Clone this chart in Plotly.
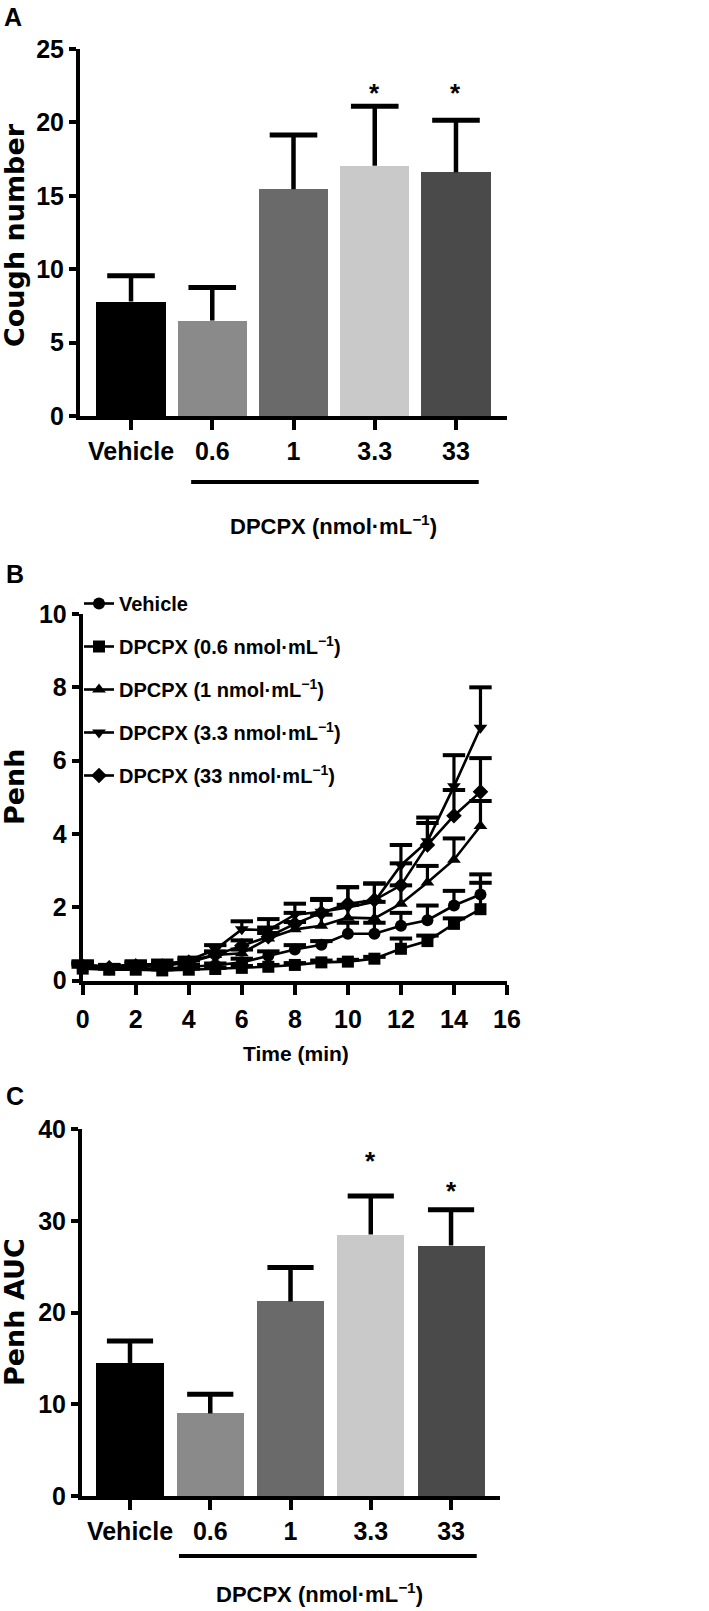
import plotly.graph_objects as go

W, H = 709, 1611

# ---------------- data ----------------
categories = ["Vehicle", "0.6", "1", "3.3", "33"]
bar_colors = ["#000000", "#8a8a8a", "#6a6a6a", "#c9c9c9", "#4a4a4a"]

cough_mean = [7.8, 6.5, 15.45, 17.05, 16.6]
cough_sem = [1.75, 2.25, 3.7, 4.05, 3.55]
cough_star = [None, None, None, 22.0, 22.0]

auc_mean = [14.5, 9.0, 21.2, 28.5, 27.3]
auc_sem = [2.4, 2.1, 3.7, 4.2, 3.9]
auc_star = [None, None, None, 36.5, 33.2]

time_min = list(range(16))
penh_vehicle = [0.35, 0.33, 0.35, 0.32, 0.38, 0.42, 0.5, 0.68, 0.85, 0.98, 1.28, 1.28, 1.5, 1.65, 2.05, 2.35]
penh_vehicle_sem = [0.1, 0.05, 0.05, 0.05, 0.05, 0.05, 0.1, 0.12, 0.12, 0.1, 0.3, 0.3, 0.35, 0.4, 0.4, 0.55]
penh_06 = [0.33, 0.3, 0.3, 0.28, 0.3, 0.32, 0.35, 0.38, 0.43, 0.5, 0.52, 0.6, 0.87, 1.08, 1.55, 1.95]
penh_06_sem = [0.05, 0.03, 0.03, 0.03, 0.03, 0.03, 0.05, 0.05, 0.05, 0.05, 0.05, 0.05, 0.28, 0.15, 0.15, 0.72]
penh_1 = [0.45, 0.38, 0.45, 0.42, 0.55, 0.7, 0.75, 1.15, 1.4, 1.5, 1.72, 1.7, 2.1, 2.68, 3.3, 4.22]
penh_1_sem = [0.08, 0.05, 0.05, 0.05, 0.05, 0.08, 0.1, 0.15, 0.2, 0.3, 0.35, 0.45, 0.5, 0.45, 0.58, 0.68]
penh_33x = [0.4, 0.38, 0.45, 0.45, 0.55, 0.85, 1.4, 1.38, 1.8, 1.88, 2.0, 2.15, 3.15, 3.8, 5.3, 6.9]
penh_33x_sem = [0.1, 0.05, 0.08, 0.1, 0.08, 0.12, 0.22, 0.3, 0.3, 0.35, 0.55, 0.5, 0.55, 0.65, 0.85, 1.1]
penh_33 = [0.38, 0.35, 0.4, 0.4, 0.5, 0.7, 0.95, 1.2, 1.55, 1.85, 2.1, 2.2, 2.6, 3.7, 4.5, 5.15]
penh_33_sem = [0.08, 0.05, 0.05, 0.05, 0.05, 0.1, 0.15, 0.25, 0.3, 0.35, 0.45, 0.45, 0.6, 0.6, 0.7, 0.92]

series_names = [
    "Vehicle",
    "DPCPX (0.6 nmol·mL<sup>−1</sup>)",
    "DPCPX (1 nmol·mL<sup>−1</sup>)",
    "DPCPX (3.3 nmol·mL<sup>−1</sup>)",
    "DPCPX (33 nmol·mL<sup>−1</sup>)",
]
series_values = [penh_vehicle, penh_06, penh_1, penh_33x, penh_33]
series_sems = [penh_vehicle_sem, penh_06_sem, penh_1_sem, penh_33x_sem, penh_33_sem]
series_symbols = ["circle", "square", "triangle-up", "triangle-down", "diamond"]

xlabel_group = "DPCPX (nmol·mL<sup>−1</sup>)"

# ---------------- style ----------------
WIDE = "DejaVu Sans, Liberation Sans, Arial, sans-serif"
ARIAL = "Liberation Sans, Arial, Helvetica, sans-serif"


def px_x(p):
    return p / W


def px_y(p):
    return 1 - p / H


fig = go.Figure()
idx = list(range(len(categories)))


def add_bar_panel(mean, sem, xa, ya, width, cap):
    fig.add_trace(go.Bar(x=idx, y=mean, marker=dict(color=bar_colors, line=dict(width=0)),
                         width=width, xaxis=xa, yaxis=ya, showlegend=False, hoverinfo="skip"))
    fig.add_trace(go.Scatter(x=idx, y=mean, mode="markers", marker=dict(size=1, opacity=0),
                             error_y=dict(type="data", symmetric=False, array=sem,
                                          arrayminus=[0] * len(sem), width=0, thickness=4.5,
                                          color="black"),
                             xaxis=xa, yaxis=ya, showlegend=False, hoverinfo="skip"))
    tops = [m + s for m, s in zip(mean, sem)]
    fig.add_trace(go.Scatter(x=idx, y=tops, mode="markers",
                             marker=dict(symbol="line-ew", size=cap, color="black",
                                         line=dict(width=5, color="black")),
                             xaxis=xa, yaxis=ya, showlegend=False, hoverinfo="skip",
                             cliponaxis=False))


add_bar_panel(cough_mean, cough_sem, "x", "y", 0.85, 34)
add_bar_panel(auc_mean, auc_sem, "x3", "y3", 0.835, 33)

# panel B lines
for i, (nm, vals, sems, sym) in enumerate(zip(series_names, series_values, series_sems, series_symbols)):
    fig.add_trace(go.Scatter(x=time_min, y=vals, mode="lines+markers", name=nm,
                             legendgroup=f"g{i}",
                             line=dict(color="black", width=2.6),
                             marker=dict(symbol=sym, size=12, color="black"),
                             error_y=dict(type="data", symmetric=False, array=sems,
                                          arrayminus=[0] * len(sems), width=0, thickness=3.2,
                                          color="black"),
                             xaxis="x2", yaxis="y2", cliponaxis=False, hoverinfo="skip"))
    fig.add_trace(go.Scatter(x=time_min, y=[v + s for v, s in zip(vals, sems)], mode="markers",
                             marker=dict(symbol="line-ew", size=16, color="black",
                                         line=dict(width=4, color="black")),
                             xaxis="x2", yaxis="y2", showlegend=False, legendgroup=f"g{i}",
                             cliponaxis=False, hoverinfo="skip"))

axis_common = dict(showline=True, linecolor="black", linewidth=4, ticks="outside",
                   tickcolor="black", tickwidth=3.5, showgrid=False, zeroline=False,
                   fixedrange=True, tickangle=0, automargin=False)

tickfont_big = dict(family=ARIAL, size=25, color="black", weight="bold")

fig.update_layout(
    width=W, height=H, margin=dict(l=0, r=0, t=0, b=0, pad=0, autoexpand=False),
    paper_bgcolor="white", plot_bgcolor="white",
    bargap=0,
    xaxis=dict(domain=[px_x(80), px_x(507)], range=[-0.628, 4.628], tickvals=idx,
               ticktext=categories, ticklen=10, tickfont=tickfont_big, anchor="y",
               **axis_common),
    yaxis=dict(domain=[px_y(416), px_y(49)], range=[0, 25], tickvals=[0, 5, 10, 15, 20, 25],
               ticklen=7, tickfont=tickfont_big, anchor="x", **axis_common),
    xaxis2=dict(domain=[px_x(82.7), px_x(507)], range=[0, 16], tickvals=list(range(0, 17, 2)),
                ticklen=10, tickfont=tickfont_big, anchor="y2", ticklabelstandoff=3,
                **axis_common),
    yaxis2=dict(domain=[px_y(980.7), px_y(614)], range=[0, 10], tickvals=list(range(0, 11, 2)),
                ticklen=7, tickfont=tickfont_big, anchor="x2", **axis_common),
    xaxis3=dict(domain=[px_x(82), px_x(500)], range=[-0.598, 4.61], tickvals=idx,
                ticktext=categories, ticklen=10, tickfont=tickfont_big, anchor="y3",
                **axis_common),
    yaxis3=dict(domain=[px_y(1496), px_y(1129)], range=[0, 40], tickvals=[0, 10, 20, 30, 40],
                ticklen=7, tickfont=tickfont_big, anchor="x3", **axis_common),
    legend=dict(x=px_x(79), y=px_y(584), xanchor="left", yanchor="top",
                font=dict(family=ARIAL, size=20, color="black", weight="bold"),
                bgcolor="rgba(0,0,0,0)", tracegroupgap=14, itemwidth=30),
    showlegend=True,
)

annotations = []


def add_text(text, x, y, size, family, angle=0, xref="paper", yref="paper", xanchor="center",
             yanchor="middle"):
    annotations.append(dict(text=text, x=x, y=y, xref=xref, yref=yref, showarrow=False,
                            textangle=angle, xanchor=xanchor, yanchor=yanchor,
                            font=dict(family=family, size=size, color="black", weight="bold")))


# panel letters
add_text("A", px_x(2), px_y(1), 25, ARIAL, xanchor="left", yanchor="top")
add_text("B", px_x(4), px_y(558), 25, ARIAL, xanchor="left", yanchor="top")
add_text("C", px_x(4), px_y(1080), 25, ARIAL, xanchor="left", yanchor="top")

# axis titles
add_text("Cough number", px_x(14), px_y(235), 27, WIDE, angle=-90)
add_text("Penh", px_x(14), px_y(787), 27, WIDE, angle=-90)
add_text("Penh AUC", px_x(14), px_y(1312), 27, WIDE, angle=-90)
add_text("Time (min)", px_x(296), px_y(1053), 21, ARIAL)
add_text(xlabel_group, px_x(333), px_y(525), 22, ARIAL)
add_text(xlabel_group, px_x(319), px_y(1593), 22, ARIAL)

# significance stars
for i, s in enumerate(cough_star):
    if s is not None:
        add_text("*", i, s, 26, ARIAL, xref="x", yref="y")
for i, s in enumerate(auc_star):
    if s is not None:
        add_text("*", i, s, 26, ARIAL, xref="x3", yref="y3")

fig.update_layout(annotations=annotations)

# group underline beneath dose labels
fig.add_shape(type="line", xref="x", yref="paper", x0=0.74, x1=4.28, y0=px_y(482), y1=px_y(482),
              line=dict(color="black", width=4))
fig.add_shape(type="line", xref="x3", yref="paper", x0=0.61, x1=4.32, y0=px_y(1556),
              y1=px_y(1556), line=dict(color="black", width=4))

fig.write_html("out.html", config={"displayModeBar": False},
               post_script="document.body.style.margin='0';")
